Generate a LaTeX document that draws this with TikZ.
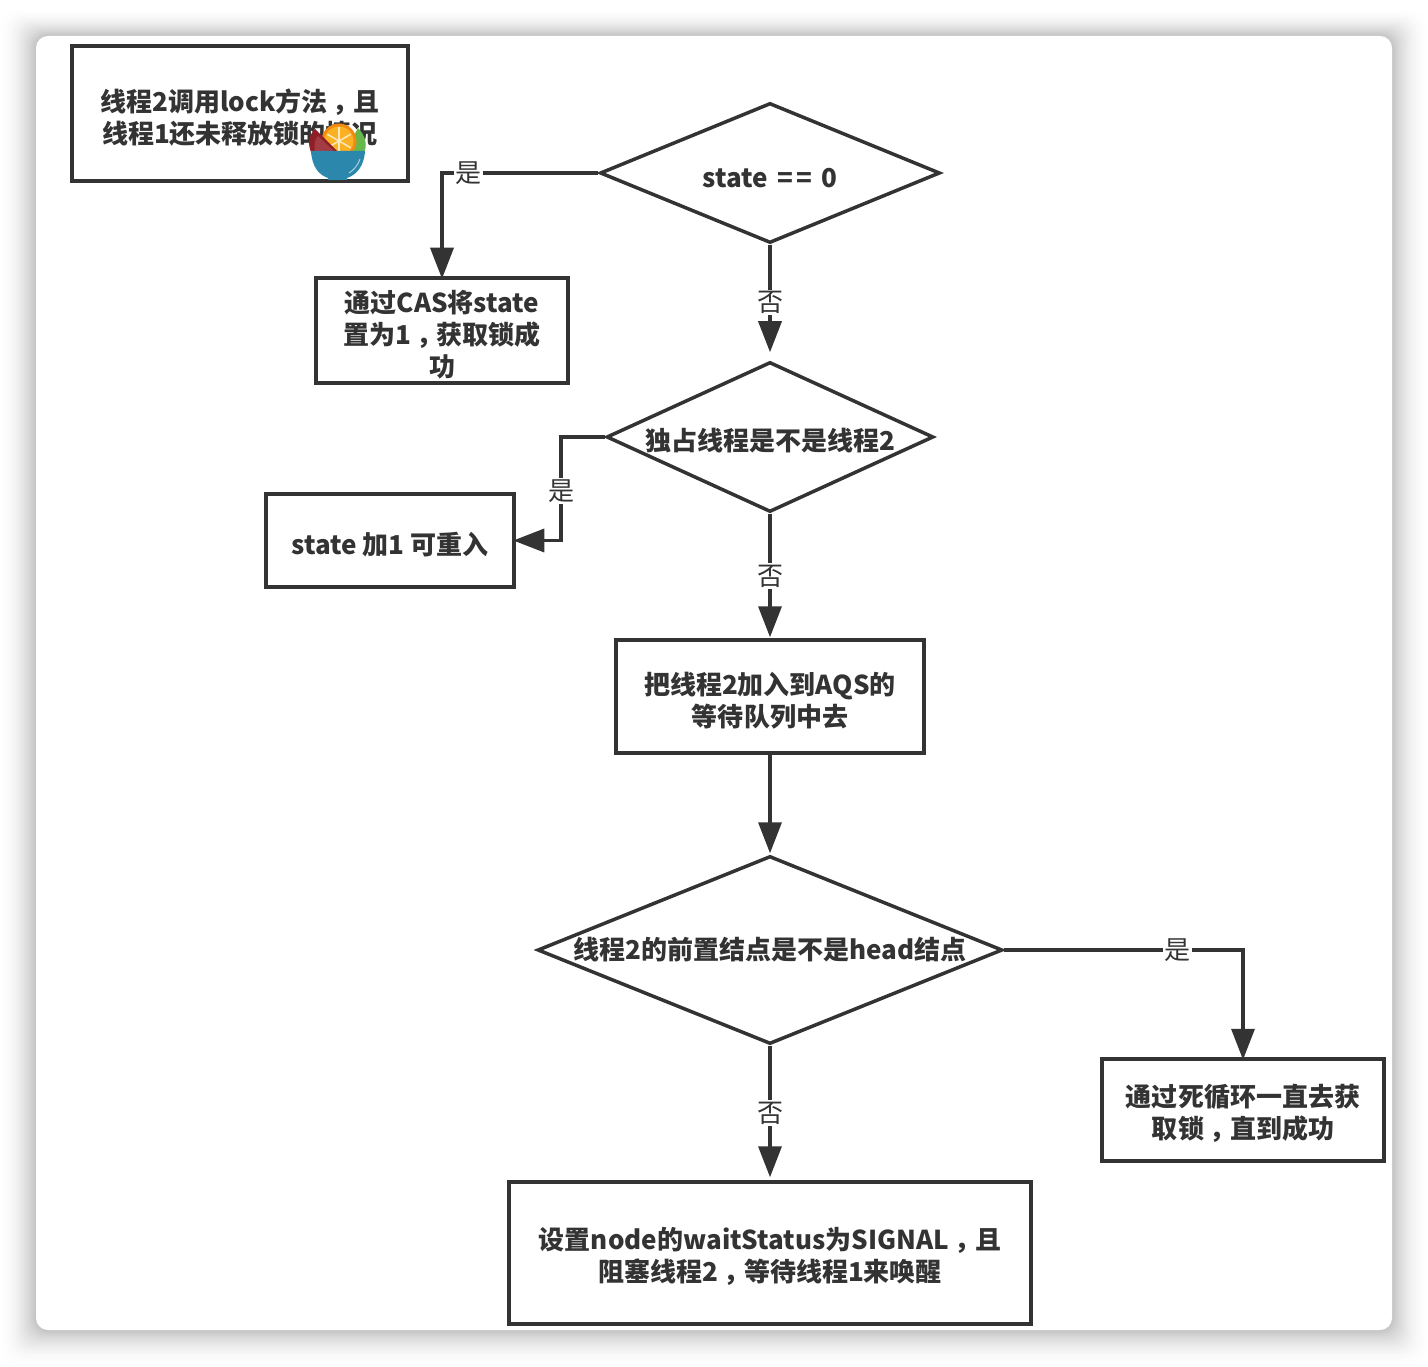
\documentclass[tikz,border=0pt]{standalone}
\usepackage{fontspec}
\setmainfont{Noto Sans CJK SC}
\usetikzlibrary{shapes.geometric,arrows.meta}
\definecolor{linegray}{HTML}{333333}
\definecolor{bowlblue}{HTML}{2B87AB}
\definecolor{wedgered}{HTML}{A33B44}
\definecolor{wedgedark}{HTML}{8E1F28}
\definecolor{peelorange}{HTML}{F08A12}
\definecolor{pulporange}{HTML}{FBB124}
\definecolor{leafgreen}{HTML}{66B84A}
\newcommand{\lowertext}{\rule{0pt}{17pt}}
\newcommand{\widecomma}{\kern.2em\symbol{"FF0C}\kern-.2em}
\tikzset{
    boxnode/.style={rectangle, draw=linegray, line width=0.07cm, align=center, text=linegray, inner sep=0pt, font=\fontsize{14.8}{18.2}\selectfont\bfseries},
    choicenode/.style={diamond, draw=linegray, line width=0.07cm, align=center, text=linegray, inner sep=0pt, font=\fontsize{14.8}{18.2}\selectfont\bfseries},
    flowline/.style={draw=linegray, line width=0.07cm, -{Triangle[length=0.62cm,width=0.46cm]}},
    answer/.style={fill=white, text=linegray, inner sep=1pt, font=\fontsize{14.8}{18.2}\selectfont}
}
\begin{document}
\begin{tikzpicture}
    \useasboundingbox (0, 0) rectangle (28.56, 27.32);
    \fill[white] (0, 0) rectangle (28.56, 27.32);

    % card and its shadow
    \foreach \i in {36,35,...,1} {
        \pgfmathsetmacro{\shade}{24*(1-\i/37)*(1-\i/37)}
        \fill[black!\shade!white, rounded corners=0.3cm] (0.72-\i*0.02, 0.72-\i*0.02) rectangle (27.84+\i*0.02, 26.6+\i*0.02*0.75);
    }
    \fill[white, rounded corners=0.24cm] (0.72, 0.72) rectangle (27.84, 26.6);

    \node[boxnode, minimum width=6.72cm, minimum height=2.7cm] (start) at (4.8, 25.05) {\lowertext 线程2调用lock方法\widecomma 且\\线程1还未释放锁的情况};
    \node[boxnode, minimum width=5.04cm, minimum height=2.1cm] (cas) at (8.84, 20.71) {\lowertext 通过CAS将state\\置为1\widecomma 获取锁成\\功};
    \node[boxnode, minimum width=4.96cm, minimum height=1.86cm] (reenter) at (7.8, 16.51) {\lowertext state 加1 可重入};
    \node[boxnode, minimum width=6.16cm, minimum height=2.26cm] (enqueue) at (15.4, 13.39) {\lowertext 把线程2加入到AQS的\\等待队列中去};
    \node[boxnode, minimum width=5.64cm, minimum height=2.04cm] (spin) at (24.86, 5.12) {\lowertext 通过死循环一直去获\\取锁\widecomma 直到成功};
    \node[boxnode, minimum width=10.44cm, minimum height=2.84cm] (park) at (15.4, 2.26) {\lowertext 设置node的waitStatus为SIGNAL\widecomma 且\\阻塞线程2\widecomma 等待线程1来唤醒};

    \node[choicenode, minimum width=6.8cm, minimum height=2.8cm, shape aspect=2.43] (d1) at (15.4, 23.86) {\lowertext state\kern2pt\ =\kern2pt=\ \kern2pt0};
    \node[choicenode, minimum width=6.54cm, minimum height=3cm, shape aspect=2.18] (d2) at (15.4, 18.58) {\lowertext 独占线程是不是线程2};
    \node[choicenode, minimum width=9.3cm, minimum height=3.76cm, shape aspect=2.47] (d3) at (15.4, 8.32) {\raisebox{-5.6pt}[0pt][0pt]{线程2的前置结点是不是head结点}};

    \coordinate (d2bend) at (11.22, 18.58);
    \coordinate (reenterbend) at (11.22, 16.51);

    \draw [flowline, shorten >=-0.05cm] (d1.west) -| node[answer, pos=0.415] (yes1) {是} (cas.north);
    \draw [flowline, shorten >=0.16cm] (d1.south) -- node[answer] (no1) {否} (d2.north);
    \draw [flowline, shorten >=-0.05cm] (d2.west) -- (d2bend) -- node[answer, pos=0.52] (yes2) {是} (reenterbend) -- (reenter.east);
    \draw [flowline, shorten >=0.02cm] (d2.south) -- node[answer] (no2) {否} (enqueue.north);
    \draw [flowline, shorten >=0.02cm] (enqueue.south) -- (d3.north);
    \draw [flowline, shorten >=-0.05cm] (d3.east) -| node[answer, pos=0.363] (yes3) {是} (spin.north);
    \draw [flowline, shorten >=0.06cm] (d3.south) -- node[answer] (no3) {否} (park.north);

    % fruit bowl
    \fill[leafgreen] (7.16, 24.76) .. controls (7.3, 24.62) and (7.36, 24.42) .. (7.28, 24.28) -- (6.9, 24.28) -- cycle;
    \fill[peelorange] (6.78, 24.5) circle (0.35);
    \fill[pulporange] (6.78, 24.5) circle (0.29);
    \foreach \a in {30,90,150,210,270,330} {
        \draw[white!70!pulporange, line width=0.03cm] (6.78, 24.5) -- ++(\a:0.27);
    }
    \fill[wedgedark] (6.3, 24.74) .. controls (6.16, 24.6) and (6.16, 24.42) .. (6.22, 24.28) -- (6.76, 24.28) -- cycle;
    \fill[wedgered] (6.36, 24.6) .. controls (6.28, 24.52) and (6.28, 24.4) .. (6.3, 24.28) -- (6.7, 24.28) -- cycle;
    \fill[bowlblue] (6.22, 24.3) -- (7.3, 24.3) .. controls (7.28, 23.98) and (7.12, 23.82) .. (6.94, 23.76) -- (6.94, 23.72) -- (6.56, 23.72) -- (6.56, 23.76) .. controls (6.38, 23.82) and (6.24, 23.98) .. (6.22, 24.3) -- cycle;
    \draw[white!60!bowlblue, line width=0.02cm] (7.2, 24.14) .. controls (7.16, 24.02) and (7.08, 23.92) .. (6.98, 23.86);
\end{tikzpicture}
\end{document}
